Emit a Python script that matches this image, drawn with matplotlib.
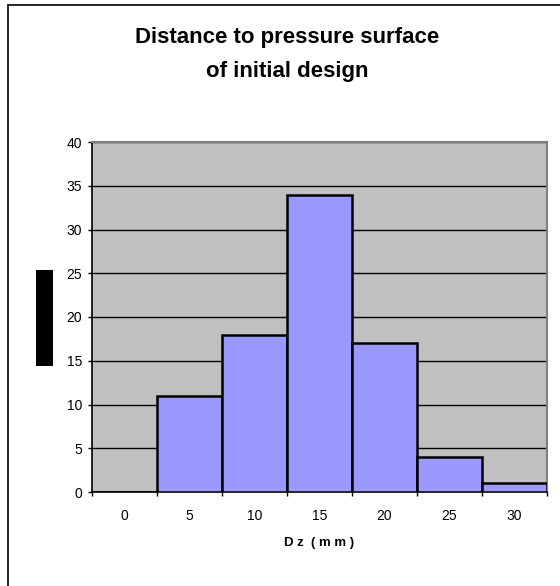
import numpy as np
import matplotlib.pyplot as plt
from matplotlib.patches import Rectangle

# data ----------------------------------
categories = ['0', '5', '10', '15', '20', '25', '30']
counts = [0, 11, 18, 34, 17, 4, 1]
y_ticks = [0, 5, 10, 15, 20, 25, 30, 35, 40]

W, H = 560, 586
fig = plt.figure(figsize=(W / 100, H / 100), dpi=100)
fig.patch.set_facecolor('white')

# outer chart frame (runs off right and bottom edges)
fig.add_artist(Rectangle((8 / W, -0.1), 1.2, (H - 5) / H + 0.1, transform=fig.transFigure,
                         fill=False, edgecolor='black', linewidth=1.2))

# plot area ----------------------------------
left, right, top, bottom = 92, 547, 142, 492
ax = fig.add_axes([left / W, 1 - bottom / H, (right - left) / W, (bottom - top) / H])
ax.set_facecolor('#C0C0C0')

x = np.arange(len(categories))
ax.set_axisbelow(True)
ax.yaxis.grid(True, color='black', linewidth=1.0)
ax.bar(x, counts, width=1.0, color='#9999FF', edgecolor='black', linewidth=1.8, zorder=3)

ax.set_xlim(-0.5, len(categories) - 0.5)
ax.set_ylim(0, 40)
ax.set_yticks(y_ticks)
ax.set_yticklabels([str(v) for v in y_ticks], fontsize=10, family='Liberation Sans')

ax.set_xticks(x)
ax.set_xticklabels(categories, fontsize=10, family='Liberation Sans')
ax.tick_params(axis='x', which='major', length=0, pad=12)
ax.set_xticks(np.arange(-0.5, len(categories)), minor=True)
ax.tick_params(axis='x', which='minor', length=3, width=1, color='black', direction='out')
ax.tick_params(axis='y', length=3, width=1, color='black', direction='out', pad=4)

for s in ['top', 'right']:
    ax.spines[s].set_color('#808080')
    ax.spines[s].set_linewidth(1.5)
ax.spines['left'].set_color('black')
ax.spines['bottom'].set_color('black')
ax.spines['left'].set_linewidth(1.2)
ax.spines['bottom'].set_linewidth(1.2)

ax.set_xlabel('D z  ( m m )', fontsize=9.5, fontweight='bold', family='Liberation Sans', labelpad=10)

# y label shown as black block
fig.add_artist(Rectangle((36 / W, 1 - 366 / H), 17 / W, 96 / H, transform=fig.transFigure,
                         facecolor='black', edgecolor='none'))

fig.text(287 / W, 1 - 38 / H, 'Distance to pressure surface', ha='center', va='center',
         fontsize=16, fontweight='bold', family='Liberation Sans')
fig.text(287 / W, 1 - 71 / H, 'of initial design', ha='center', va='center',
         fontsize=16, fontweight='bold', family='Liberation Sans')

plt.savefig('out.png', dpi=100)
